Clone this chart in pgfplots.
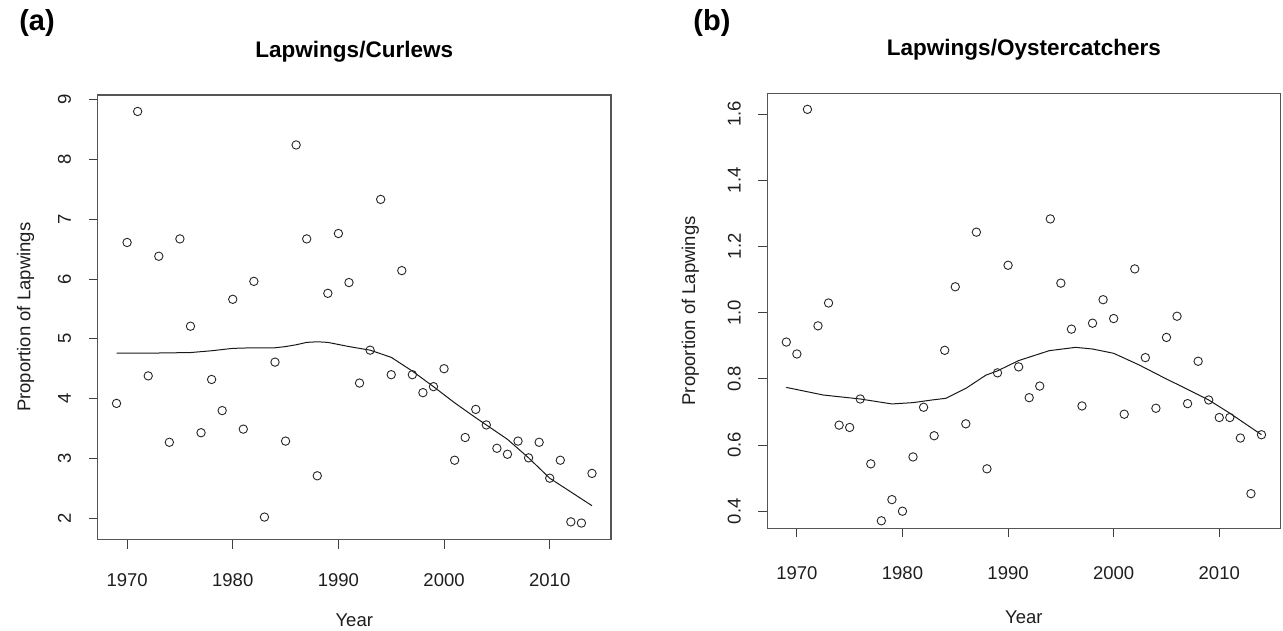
\documentclass[border=0pt]{standalone}
\usepackage{pgfplots}
\pgfplotsset{compat=1.18}
\usepackage{fontspec}
\setmainfont{Liberation Sans}
\definecolor{boxgray}{RGB}{85,85,85}
\definecolor{txt}{RGB}{30,30,30}
\pgfplotsset{
  rstyle/.style={
    scale only axis,
    axis line style={draw=boxgray, line width=1.1pt},
    tick align=outside,
    major tick length=9pt,
    tick style={draw=black!75, line width=0.9pt},
    xtick pos=bottom, ytick pos=left,
    /pgf/number format/assume math mode=true,
    /pgf/number format/1000 sep={},
    ticklabel style={font=\fontsize{18.5}{20}\selectfont, text=txt},
    label style={font=\fontsize{18.5}{20}\selectfont, text=txt},
    title style={font=\bfseries\fontsize{22.5}{24}\selectfont, text=black},
    xmin=1967.2, xmax=2015.8,
    xtick={1970,1980,1990,2000,2010},
    yticklabel style={anchor=center, xshift=-24pt, rotate=90},
    xlabel={Year},
    ylabel={Proportion of Lapwings},
  },
  pts/.style={only marks, mark=o, mark size=4.2pt, mark options={draw=black!85, line width=0.9pt}},
  lo/.style={no marks, draw=black!90, line width=1pt},
}
\begin{document}
\begin{tikzpicture}
\path[use as bounding box] (0pt,0pt) rectangle (1283pt,-630pt);
\node[font=\bfseries\fontsize{29}{30}\selectfont] at (37pt,-23pt) {(a)};
\node[font=\bfseries\fontsize{29}{30}\selectfont] at (712pt,-23pt) {(b)};
\begin{axis}[rstyle,
  at={(97.5pt,-539.5pt)}, anchor=south west,
  width=513.5pt, height=444.5pt,
  ymin=1.645, ymax=9.075,
  ytick={2,3,4,5,6,7,8,9},
  xticklabel style={anchor=center, yshift=-32pt},
  title={Lapwings/Curlews},
  title style={at={(axis description cs:0.5,1)}, anchor=center, yshift=37pt},
  xlabel style={at={(axis description cs:0.5,-0.182)}, anchor=center},
  ylabel style={at={(axis description cs:-0.14,0.5)}, anchor=center},
]
\addplot[pts] coordinates {
(1969,3.92) (1970,6.61) (1971,8.80) (1972,4.38) (1973,6.38) (1974,3.27)
(1975,6.67) (1976,5.21) (1977,3.43) (1978,4.32) (1979,3.80) (1980,5.66)
(1981,3.49) (1982,5.96) (1983,2.02) (1984,4.61) (1985,3.29) (1986,8.24)
(1987,6.67) (1988,2.71) (1989,5.76) (1990,6.76) (1991,5.94) (1992,4.26)
(1993,4.81) (1994,7.33) (1995,4.40) (1996,6.14) (1997,4.40) (1998,4.10)
(1999,4.20) (2000,4.50) (2001,2.97) (2002,3.35) (2003,3.82) (2004,3.56)
(2005,3.17) (2006,3.07) (2007,3.29) (2008,3.01) (2009,3.27) (2010,2.67)
(2011,2.97) (2012,1.94) (2013,1.92) (2014,2.75)};
\addplot[lo] coordinates {
(1969,4.76) (1972,4.76) (1976,4.77) (1978,4.80) (1980,4.84) (1982,4.85)
(1984,4.85) (1985,4.87) (1986,4.90) (1987,4.94) (1988,4.95) (1989,4.94)
(1991,4.87) (1993,4.81) (1995,4.69) (1997,4.46) (1999,4.20) (2001,3.93)
(2003,3.68) (2004,3.56) (2006,3.32) (2008,3.01) (2010,2.67) (2012,2.44) (2014,2.21)};
\end{axis}
\begin{axis}[rstyle,
  at={(767.3pt,-528.3pt)}, anchor=south west,
  width=513.2pt, height=435pt,
  ymin=0.3483, ymax=1.6625,
  ytick={0.4,0.6,0.8,1.0,1.2,1.4,1.6},
  yticklabel style={/pgf/number format/.cd, fixed, fixed zerofill, precision=1},
  xticklabel style={anchor=center, yshift=-36pt},
  title={Lapwings/Oystercatchers},
  title style={at={(axis description cs:0.5,1)}, anchor=center, yshift=38pt},
  xlabel style={at={(axis description cs:0.5,-0.205)}, anchor=center},
  ylabel style={at={(axis description cs:-0.15,0.5)}, anchor=center},
]
\addplot[pts] coordinates {
(1969,0.911) (1970,0.875) (1971,1.614) (1972,0.960) (1973,1.029) (1974,0.660)
(1975,0.653) (1976,0.739) (1977,0.543) (1978,0.371) (1979,0.435) (1980,0.400)
(1981,0.564) (1982,0.714) (1983,0.628) (1984,0.886) (1985,1.078) (1986,0.664)
(1987,1.243) (1988,0.528) (1989,0.818) (1990,1.143) (1991,0.836) (1992,0.743)
(1993,0.778) (1994,1.283) (1995,1.089) (1996,0.950) (1997,0.718) (1998,0.968)
(1999,1.039) (2000,0.982) (2001,0.693) (2002,1.132) (2003,0.864) (2004,0.711)
(2005,0.925) (2006,0.989) (2007,0.725) (2008,0.853) (2009,0.736) (2010,0.683)
(2011,0.683) (2012,0.621) (2013,0.453) (2014,0.631)};
\addplot[lo] coordinates {
(1969,0.774) (1972.5,0.751) (1976,0.739) (1979,0.724) (1981,0.728) (1982.8,0.736)
(1984.1,0.741) (1986,0.771) (1987.9,0.811) (1989,0.824) (1991,0.855) (1993.9,0.885)
(1996.4,0.895) (1998,0.890) (2000,0.877) (2002.4,0.842) (2004.9,0.801) (2007,0.768)
(2009,0.736) (2011,0.696) (2014,0.631)};
\end{axis}
\end{tikzpicture}
\end{document}
